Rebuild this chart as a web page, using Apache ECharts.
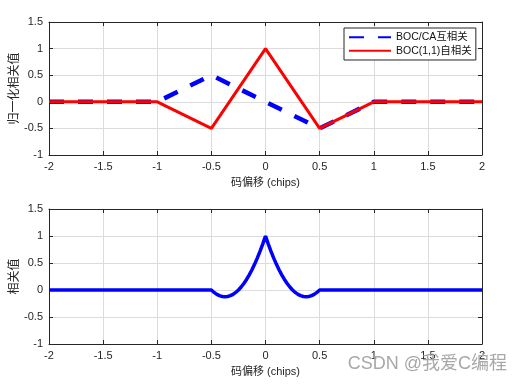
<!DOCTYPE html>
<html><head><meta charset="utf-8">
<script src="https://cdn.jsdelivr.net/npm/echarts@6/dist/echarts.min.js"></script>
<style>html,body{margin:0;padding:0;background:#fff}#c{width:522px;height:386px}</style>
</head><body><div id="c"></div>
<script>
// Top panel
var topX = [-2, -1, -0.5, 0, 0.5, 1, 2];
var bocCaCross = [0, 0, 0.5, 0, -0.5, 0, 0];
var boc11Auto = [0, 0, -0.5, 1, -0.5, 0, 0];
// Bottom panel
var bottomX = [-2, -0.5, -0.475, -0.45, -0.425, -0.4, -0.375, -0.35, -0.325, -0.3, -0.275, -0.25, -0.225, -0.2, -0.175, -0.15, -0.125, -0.1, -0.075, -0.05, -0.025, 0,
  0.025, 0.05, 0.075, 0.1, 0.125, 0.15, 0.175, 0.2, 0.225, 0.25, 0.275, 0.3, 0.325, 0.35, 0.375, 0.4, 0.425, 0.45, 0.475, 0.5, 2];
var bottomY = [0, 0, -0.045, -0.08, -0.105, -0.12, -0.125, -0.12, -0.105, -0.08, -0.045, 0, 0.055, 0.12, 0.195, 0.28, 0.375, 0.48, 0.595, 0.72, 0.855, 1,
  0.855, 0.72, 0.595, 0.48, 0.375, 0.28, 0.195, 0.12, 0.055, 0, -0.045, -0.08, -0.105, -0.12, -0.125, -0.12, -0.105, -0.08, -0.045, 0, 0];
var xTicks = ['-2', '-1.5', '-1', '-0.5', '0', '0.5', '1', '1.5', '2'];
var yTicks = ['-1', '-0.5', '0', '0.5', '1', '1.5'];
var legendNames = ['BOC/CA互相关', 'BOC(1,1)自相关'];
var xName = '码偏移 (chips)';
var yNameTop = '归一化相关值';
var yNameBottom = '相关值';

function zip(a, b) { return a.map(function (v, i) { return [v, b[i]]; }); }

var FONT = "'Liberation Sans', Arial, 'Noto Sans CJK SC', sans-serif";
var axisCol = '#262626';
var gridCol = '#dcdcdc';

function xAx(gi, pos, showLabel, name) {
  return {
    type: 'value', gridIndex: gi, position: pos, min: -2, max: 2, interval: 0.5,
    axisLine: { show: true, onZero: false, lineStyle: { color: axisCol, width: 1 } },
    axisTick: { show: true, inside: true, length: 4, lineStyle: { color: axisCol } },
    axisLabel: { show: showLabel, color: axisCol, fontFamily: FONT, fontSize: 11, margin: 6,
      formatter: function (v) { return xTicks[Math.round((v + 2) / 0.5)]; } },
    splitLine: { show: showLabel, lineStyle: { color: gridCol, width: 1 } },
    name: name || '', nameLocation: 'middle', nameGap: 22, nameMoveOverlap: false,
    nameTextStyle: { color: axisCol, fontFamily: FONT, fontSize: 11 }
  };
}
function yAx(gi, pos, showLabel, name) {
  return {
    type: 'value', gridIndex: gi, position: pos, min: -1, max: 1.5, interval: 0.5,
    axisLine: { show: true, onZero: false, lineStyle: { color: axisCol, width: 1 } },
    axisTick: { show: true, inside: true, length: 4, lineStyle: { color: axisCol } },
    axisLabel: { show: showLabel, color: axisCol, fontFamily: FONT, fontSize: 11, margin: 6,
      formatter: function (v) { return yTicks[Math.round((v + 1) / 0.5)]; } },
    splitLine: { show: showLabel, lineStyle: { color: gridCol, width: 1 } },
    name: name || '', nameLocation: 'middle', nameGap: 28, nameRotate: 90, nameMoveOverlap: false,
    nameTextStyle: { color: axisCol, fontFamily: FONT, fontSize: 12 }
  };
}

var chart = echarts.init(document.getElementById('c'), null, { renderer: 'canvas' });
chart.setOption({
  backgroundColor: '#fff',
  animation: false,
  grid: [
    { left: 49, right: 40, top: 22, height: 133, containLabel: false, outerBoundsMode: 'none' },
    { left: 49, right: 40, top: 209, height: 135, containLabel: false, outerBoundsMode: 'none' }
  ],
  xAxis: [xAx(0, 'bottom', true, xName), xAx(0, 'top', false), xAx(1, 'bottom', true, xName), xAx(1, 'top', false)],
  yAxis: [yAx(0, 'left', true, yNameTop), yAx(0, 'right', false), yAx(1, 'left', true, yNameBottom), yAx(1, 'right', false)],
  legend: {
    data: legendNames, orient: 'vertical', left: 344, top: 28,
    backgroundColor: '#fff', borderColor: '#262626', borderWidth: 1,
    padding: [4, 4, 4, 4], itemGap: 3, itemWidth: 42, itemHeight: 12,
    itemStyle: { opacity: 0 },
    textStyle: { fontFamily: FONT, fontSize: 10.5, color: '#111' }
  },
  graphic: [{
    type: 'text', right: 15, top: 355,
    style: { text: 'CSDN @我爱C编程', fill: '#a8a8a8', font: "18px 'Liberation Sans', 'Noto Sans CJK SC', sans-serif" },
    z: 100
  }],
  series: [
    { name: legendNames[0], type: 'line', xAxisIndex: 0, yAxisIndex: 0, data: zip(topX, bocCaCross),
      showSymbol: false, symbol: 'none', color: '#0000ff',
      lineStyle: { color: '#0000ff', width: 4.5, type: [15, 14] }, z: 2 },
    { name: legendNames[1], type: 'line', xAxisIndex: 0, yAxisIndex: 0, data: zip(topX, boc11Auto),
      showSymbol: false, symbol: 'none', color: '#ff0000',
      lineStyle: { color: '#ff0000', width: 3 }, z: 3 },
    { name: 'bottom', type: 'line', xAxisIndex: 2, yAxisIndex: 2, data: zip(bottomX, bottomY),
      showSymbol: false, symbol: 'none', color: '#0000ff',
      lineStyle: { color: '#0000ff', width: 3.5 }, z: 2 }
  ]
});
</script>
</body></html>
